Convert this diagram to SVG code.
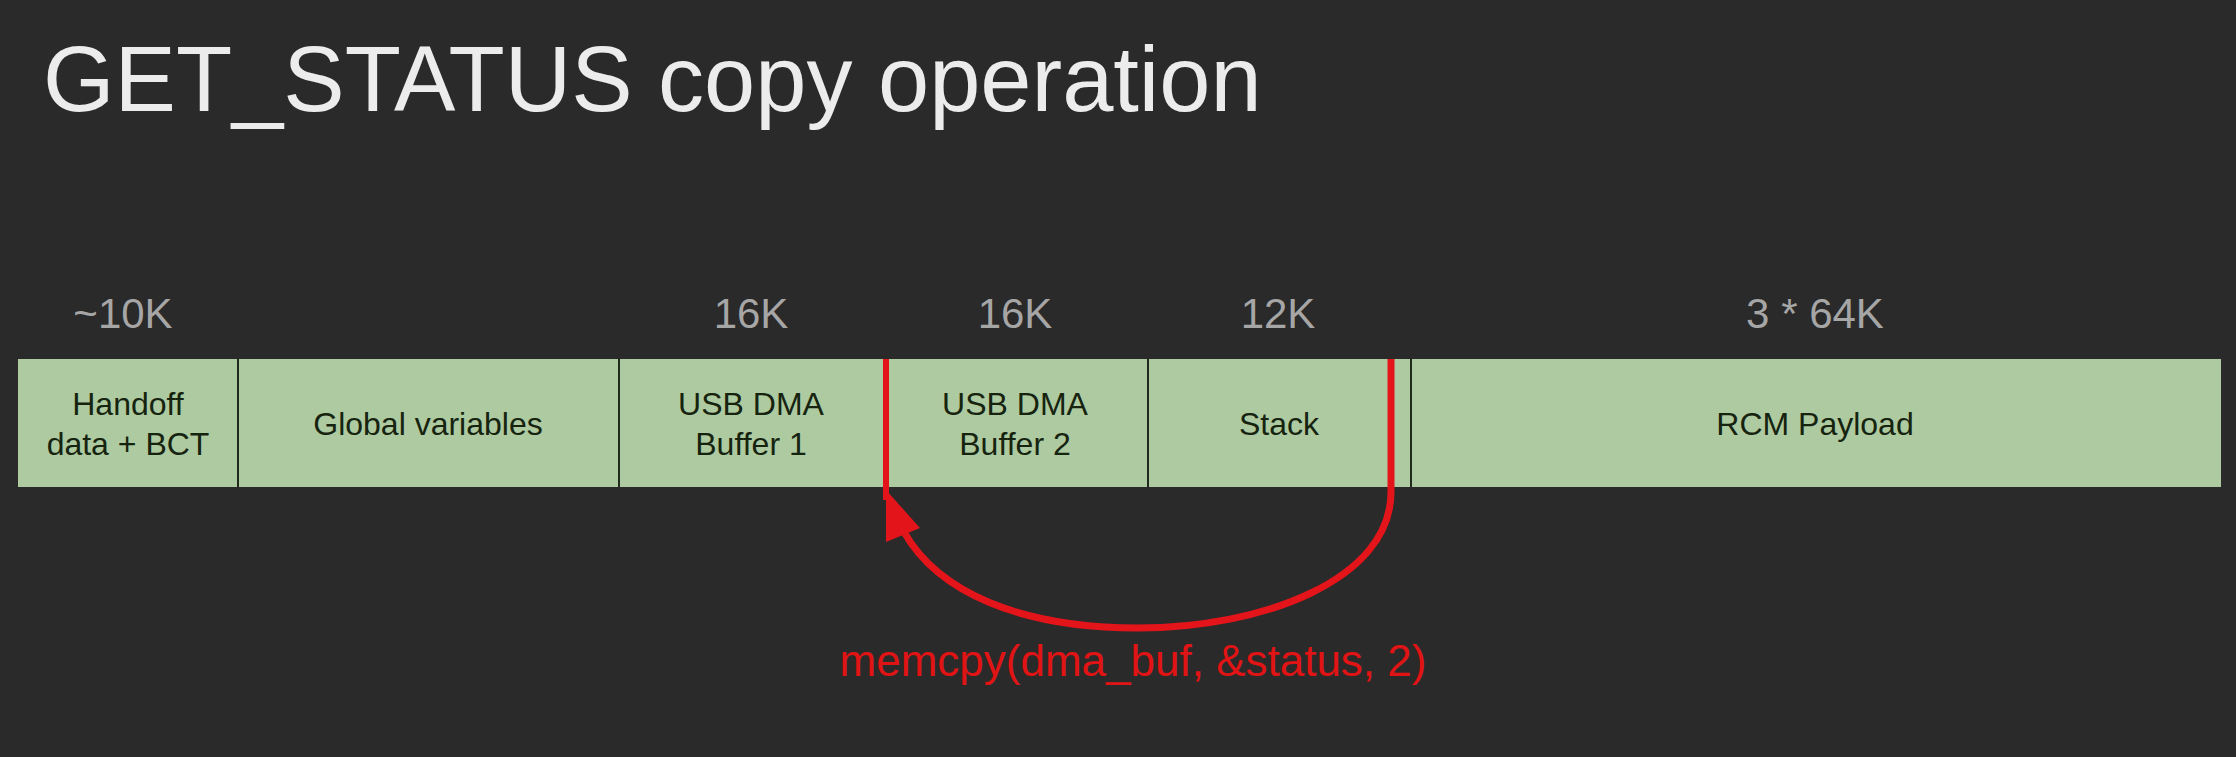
<svg xmlns="http://www.w3.org/2000/svg" width="2236" height="757" viewBox="0 0 2236 757">
  <defs>
    <style>
      .title { font-family: "Liberation Sans", Arial, sans-serif; font-size: 92px; fill: #ececec; }
      .size { font-family: "Liberation Sans", Arial, sans-serif; font-size: 42px; fill: #a6a6a6; text-anchor: middle; }
      .cell { fill: #aecaa1; }
      .lbl { font-family: "Liberation Sans", Arial, sans-serif; font-size: 32px; fill: #16240f; text-anchor: middle; }
      .div { stroke: #1f2a1c; stroke-width: 2; }
      .red { stroke: #e3151a; fill: none; }
      .code { font-family: "Liberation Sans", Arial, sans-serif; font-size: 44px; fill: #e01414; text-anchor: middle; }
    </style>
  </defs>

  <rect width="2236" height="757" fill="#2a2a2a"/>

  <text class="title" x="43" y="111">GET_STATUS copy operation</text>

  <!-- size labels -->
  <g id="sizes">
    <text class="size" x="123" y="328">~10K</text>
    <text class="size" x="751" y="328">16K</text>
    <text class="size" x="1015" y="328">16K</text>
    <text class="size" x="1278" y="328">12K</text>
    <text class="size" x="1815" y="328">3 * 64K</text>
  </g>

  <!-- memory map -->
  <g id="handoff">
    <rect class="cell" x="18" y="359" width="220" height="128"/>
    <text class="lbl" x="128" y="415">Handoff</text>
    <text class="lbl" x="128" y="455">data + BCT</text>
  </g>
  <g id="globals">
    <rect class="cell" x="238" y="359" width="381" height="128"/>
    <text class="lbl" x="428" y="435">Global variables</text>
  </g>
  <g id="dma1">
    <rect class="cell" x="619" y="359" width="264" height="128"/>
    <text class="lbl" x="751" y="415">USB DMA</text>
    <text class="lbl" x="751" y="455">Buffer 1</text>
  </g>
  <g id="dma2">
    <rect class="cell" x="883" y="359" width="265" height="128"/>
    <text class="lbl" x="1015" y="415">USB DMA</text>
    <text class="lbl" x="1015" y="455">Buffer 2</text>
  </g>
  <g id="stack">
    <rect class="cell" x="1148" y="359" width="262" height="128"/>
    <text class="lbl" x="1279" y="435">Stack</text>
  </g>
  <g id="payload">
    <rect class="cell" x="1410" y="359" width="811" height="128"/>
    <text class="lbl" x="1815" y="435">RCM Payload</text>
  </g>

  <g id="dividers">
    <line class="div" x1="238" y1="359" x2="238" y2="487"/>
    <line class="div" x1="619" y1="359" x2="619" y2="487"/>
    <line class="div" x1="1148" y1="359" x2="1148" y2="487"/>
    <line class="div" x1="1411" y1="359" x2="1411" y2="487"/>
  </g>

  <!-- copy arrow -->
  <g id="connectors">
    <line class="red" stroke-width="6" x1="886" y1="359" x2="886" y2="500"/>
    <path class="red" stroke-width="7" d="M 1391 359 L 1391 492 C 1391 580 1262 628 1138 628 C 1020 628 938 592 904 532"/>
    <polygon fill="#e3151a" points="886,490 886,542 920,528"/>
  </g>

  <text class="code" x="1133" y="676">memcpy(dma_buf, &amp;status, 2)</text>
</svg>
